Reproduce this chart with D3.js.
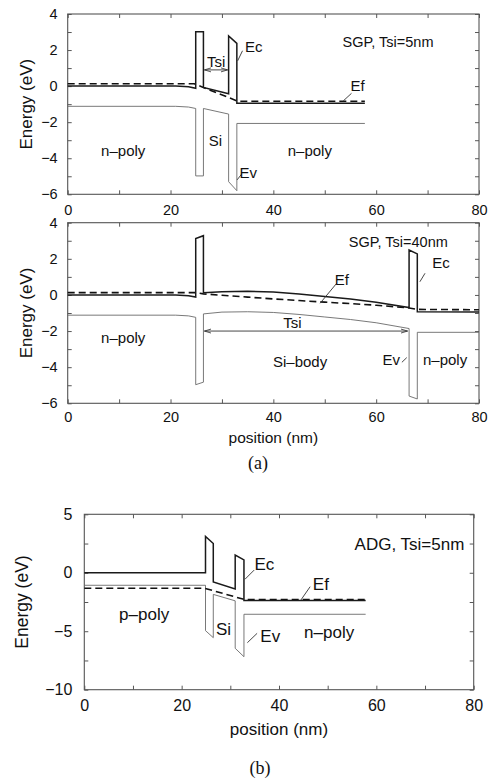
<!DOCTYPE html>
<html>
<head>
<meta charset="utf-8">
<script src="https://cdn.jsdelivr.net/npm/d3@7"></script>
<style>
body { margin: 0; background: #fff; }
text { font-family: "Liberation Sans", Arial, Helvetica, sans-serif; fill: #111; }
.cap { font-family: "Liberation Serif", "Times New Roman", serif; }
</style>
</head>
<body>
<svg id="fig" width="490" height="780"></svg>
<script>
// ---- data (position in nm, energy in eV) ----
var xMajor = [0, 20, 40, 60, 80];
var xMinor = [0, 10, 20, 30, 40, 50, 60, 70, 80];

// (a) top: SGP, Tsi = 5nm
var ecA1 = [[0,0],[21,0],[23.5,-0.04],[24.9,-0.12],[24.9,3.02],[26.4,3.02],[26.4,-0.07],[31.3,-0.42],
            [31.3,2.78],[32.9,2.37],[32.9,-0.95],[57.8,-0.95]];
var evA1 = [[0,-1.12],[21,-1.12],[23.5,-1.16],[24.9,-1.24],[24.9,-4.98],[26.4,-4.98],[26.4,-1.24],[31.3,-1.55],
            [31.3,-5.3],[32.9,-5.8],[32.9,-2.07],[57.8,-2.07]];
var efA1 = [[0,0.13],[24.6,0.13],[33.1,-0.84],[57.8,-0.84]];

// (a) middle: SGP, Tsi = 40nm
var ecA2 = [[0,0],[21,0],[23.5,-0.04],[24.9,-0.12],[24.9,3.12],[26.4,3.28],[26.4,0.12],[30,0.18],[35,0.2],
            [40,0.16],[45,0.05],[50,-0.08],[55,-0.22],[60,-0.4],[66.4,-0.7],[66.4,2.49],[68,2.27],[68,-0.93],[80,-0.95]];
var evA2 = [[0,-1.12],[21,-1.12],[23.5,-1.16],[24.9,-1.24],[24.9,-4.97],[26.4,-4.83],[26.4,-1.05],[30,-0.95],
            [35,-0.93],[40,-0.97],[45,-1.08],[50,-1.22],[55,-1.36],[60,-1.54],[66.4,-1.86],[66.4,-5.6],[68,-5.76],
            [68,-2.07],[80,-2.07]];
var efA2 = [[0,0.13],[24.9,0.13],[26.4,0.06],[30,-0.02],[35,-0.12],[40,-0.22],[45,-0.31],[50,-0.4],[55,-0.48],
            [60,-0.57],[66.4,-0.72],[68,-0.8],[80,-0.82]];

// (b): ADG, Tsi = 5nm
var ecB = [[0,0],[24.9,0],[24.9,3.1],[26.5,2.5],[26.5,-0.78],[31.0,-1.38],[31.0,1.52],[32.8,1.1],[32.8,-2.37],[57.8,-2.37]];
var evB = [[0,-1.07],[24.9,-1.07],[24.9,-4.95],[26.5,-5.55],[26.5,-1.85],[31.0,-2.4],[31.0,-6.46],[32.8,-7.18],
           [32.8,-3.55],[57.8,-3.55]];
var efB = [[0,-1.32],[24.7,-1.32],[33.0,-2.3],[57.8,-2.3]];

var yTicksA = [-6, -4, -2, 0, 2, 4];
var yMinorA = d3.range(-6, 4.01, 1);
var yTicksB = [-10, -5, 0, 5];
var yMinorB = d3.range(-10, 5.01, 2.5);

var svg = d3.select("#fig");

// arrowhead for Tsi markers
var defs = svg.append("defs");
defs.append("marker")
    .attr("id", "ah")
    .attr("viewBox", "0 0 10 10")
    .attr("refX", 10).attr("refY", 5)
    .attr("markerWidth", 7).attr("markerHeight", 7)
    .attr("orient", "auto-start-reverse")
    .attr("markerUnits", "userSpaceOnUse")
  .append("path")
    .attr("d", "M0,2 L10,5 L0,8")
    .attr("fill", "none")
    .attr("stroke", "#333")
    .attr("stroke-width", 1.2);

drawPanel({
    left: 67.7, right: 479, top: 14, bottom: 194.3,
    yDomain: [-6, 4], yTicks: yTicksA, yMinor: yMinorA,
    ec: ecA1, ev: evA1, ef: efA1,
    tickFont: 14.5, xPad: 10, yPad: 10, labelFont: 15, titleFont: 14.5,
    yLabelX: 31.5, yLabelSize: 17, xLabel: null,
    title: {t: "SGP, Tsi=5nm", x: 62.3, y: 2.17},
    texts: [
        {t: "Tsi", x: 28.9, y: 1.08},
        {t: "Ec", x: 36.2, y: 1.91},
        {t: "Ef", x: 56.4, y: -0.28},
        {t: "Ev", x: 35.1, y: -5.11},
        {t: "Si", x: 28.75, y: -3.32},
        {t: "n\u2013poly", x: 10.8, y: -3.88},
        {t: "n\u2013poly", x: 47.1, y: -3.88}
    ],
    leaders: [[34.0, 1.96, 33.05, 1.4], [55.2, -0.4, 53.6, -0.82], [33.85, -4.87, 32.95, -5.2]],
    arrow: [26.4, 31.3, 0.9]
});

drawPanel({
    left: 67.7, right: 479, top: 222.7, bottom: 403.3,
    yDomain: [-6, 4], yTicks: yTicksA, yMinor: yMinorA,
    ec: ecA2, ev: evA2, ef: efA2,
    tickFont: 14.5, xPad: 8, yPad: 10, labelFont: 15, titleFont: 14.5,
    yLabelX: 31.5, yLabelSize: 17, xLabel: {y: 442.7, size: 15.5},
    title: {t: "SGP, Tsi=40nm", x: 64.3, y: 2.67},
    texts: [
        {t: "Ec", x: 72.6, y: 1.48},
        {t: "Ef", x: 53.3, y: 0.55},
        {t: "Tsi", x: 43.7, y: -1.85},
        {t: "Ev", x: 62.95, y: -3.88},
        {t: "n\u2013poly", x: 10.8, y: -2.68},
        {t: "Si\u2013body", x: 45.2, y: -3.97},
        {t: "n\u2013poly", x: 73.4, y: -3.88}
    ],
    leaders: [[69.5, 1.2, 68.5, 0.73], [52.3, 0.64, 49.1, -0.46], [65.0, -3.73, 65.95, -3.47]],
    arrow: [26.4, 66.3, -2.0]
});

drawPanel({
    left: 84.3, right: 473.7, top: 514.3, bottom: 689.7,
    yDomain: [-10, 5], yTicks: yTicksB, yMinor: yMinorB,
    ec: ecB, ev: evB, ef: efB,
    tickFont: 16, xPad: 10, yPad: 12, labelFont: 17, titleFont: 17,
    yLabelX: 28.3, yLabelSize: 17.5, xLabel: {y: 735, size: 17},
    title: {t: "ADG, Tsi=5nm", x: 66.8, y: 1.95},
    texts: [
        {t: "Ec", x: 37.0, y: 0.24},
        {t: "Ef", x: 48.6, y: -1.47},
        {t: "Ev", x: 38.2, y: -5.9},
        {t: "Si", x: 28.6, y: -5.32},
        {t: "p\u2013poly", x: 12.3, y: -4.04},
        {t: "n\u2013poly", x: 50.3, y: -5.6}
    ],
    leaders: [[34.9, 0.23, 33.0, -0.56], [46.4, -1.19, 44.5, -2.33], [35.5, -5.18, 33.5, -5.98]],
    arrow: null
});

svg.append("text").attr("class", "cap")
    .attr("x", 258).attr("y", 469)
    .attr("text-anchor", "middle")
    .style("font-size", "18px")
    .text("(a)");
svg.append("text").attr("class", "cap")
    .attr("x", 260).attr("y", 774)
    .attr("text-anchor", "middle")
    .style("font-size", "18px")
    .text("(b)");

/** One band-diagram panel with boxed frame and inward ticks */
function drawPanel(cfg) {
    var x = d3.scaleLinear().domain([0, 80]).range([cfg.left, cfg.right]);
    var y = d3.scaleLinear().domain(cfg.yDomain).range([cfg.bottom, cfg.top]);
    var g = svg.append("g");
    var fmt = d3.format("d");

    var xLab = function(d) { return xMajor.indexOf(d) >= 0 ? fmt(d) : ""; };
    var yLab = function(d) { return cfg.yTicks.indexOf(d) >= 0 ? fmt(d) : ""; };

    var axes = [
        [d3.axisBottom(x).tickValues(xMinor).tickFormat(xLab).tickPadding(cfg.xPad), "translate(0," + cfg.bottom + ")"],
        [d3.axisTop(x).tickValues(xMinor).tickFormat(""), "translate(0," + cfg.top + ")"],
        [d3.axisLeft(y).tickValues(cfg.yMinor).tickFormat(yLab).tickPadding(cfg.yPad), "translate(" + cfg.left + ",0)"],
        [d3.axisRight(y).tickValues(cfg.yMinor).tickFormat(""), "translate(" + cfg.right + ",0)"]
    ];
    axes.forEach(function(a) {
        var ag = g.append("g")
            .attr("transform", a[1])
            .call(a[0].tickSizeInner(-4).tickSizeOuter(0));
        ag.select(".domain").remove();
        ag.selectAll(".tick line").attr("stroke", "#444").attr("stroke-width", 0.9);
        ag.selectAll(".tick text")
            .attr("fill", "#111")
            .style("font-family", "'Liberation Sans', Arial, sans-serif")
            .style("font-size", cfg.tickFont + "px");
    });

    g.append("rect")
        .attr("x", cfg.left).attr("y", cfg.top)
        .attr("width", cfg.right - cfg.left).attr("height", cfg.bottom - cfg.top)
        .attr("fill", "none").attr("stroke", "#555").attr("stroke-width", 1.1);

    var line = d3.line().x(function(d) { return x(d[0]); }).y(function(d) { return y(d[1]); });

    g.append("path").datum(cfg.ev)
        .attr("d", line).attr("fill", "none")
        .attr("stroke", "#6a6a6a").attr("stroke-width", 0.9);
    g.append("path").datum(cfg.ef)
        .attr("d", line).attr("fill", "none")
        .attr("stroke", "#111").attr("stroke-width", 1.6)
        .attr("stroke-dasharray", "7,4");
    g.append("path").datum(cfg.ec)
        .attr("d", line).attr("fill", "none")
        .attr("stroke", "#1a1a1a").attr("stroke-width", 1.5)
        .attr("stroke-linejoin", "miter");

    // leader lines from labels
    g.selectAll(".leader").data(cfg.leaders).enter().append("line")
        .attr("class", "leader")
        .attr("x1", function(d) { return x(d[0]); }).attr("y1", function(d) { return y(d[1]); })
        .attr("x2", function(d) { return x(d[2]); }).attr("y2", function(d) { return y(d[3]); })
        .attr("stroke", "#333").attr("stroke-width", 0.9);

    if (cfg.arrow) {
        g.append("line")
            .attr("x1", x(cfg.arrow[0]) + 1).attr("x2", x(cfg.arrow[1]) - 1)
            .attr("y1", y(cfg.arrow[2])).attr("y2", y(cfg.arrow[2]))
            .attr("stroke", "#333").attr("stroke-width", 0.9)
            .attr("marker-start", "url(#ah)").attr("marker-end", "url(#ah)");
    }

    g.selectAll(".lbl").data(cfg.texts).enter().append("text")
        .attr("class", "lbl")
        .attr("x", function(d) { return x(d.x); })
        .attr("y", function(d) { return y(d.y); })
        .attr("text-anchor", "middle")
        .style("font-size", cfg.labelFont + "px")
        .text(function(d) { return d.t; });

    g.append("text")
        .attr("x", x(cfg.title.x)).attr("y", y(cfg.title.y))
        .attr("text-anchor", "middle")
        .style("font-size", cfg.titleFont + "px")
        .text(cfg.title.t);

    var cy = (cfg.top + cfg.bottom) / 2;
    g.append("text")
        .attr("transform", "translate(" + cfg.yLabelX + "," + cy + ") rotate(-90)")
        .attr("text-anchor", "middle")
        .style("font-size", cfg.yLabelSize + "px")
        .text("Energy (eV)");

    if (cfg.xLabel) {
        g.append("text")
            .attr("x", (cfg.left + cfg.right) / 2).attr("y", cfg.xLabel.y)
            .attr("text-anchor", "middle")
            .style("font-size", cfg.xLabel.size + "px")
            .text("position (nm)");
    }
}
</script>
</body>
</html>
